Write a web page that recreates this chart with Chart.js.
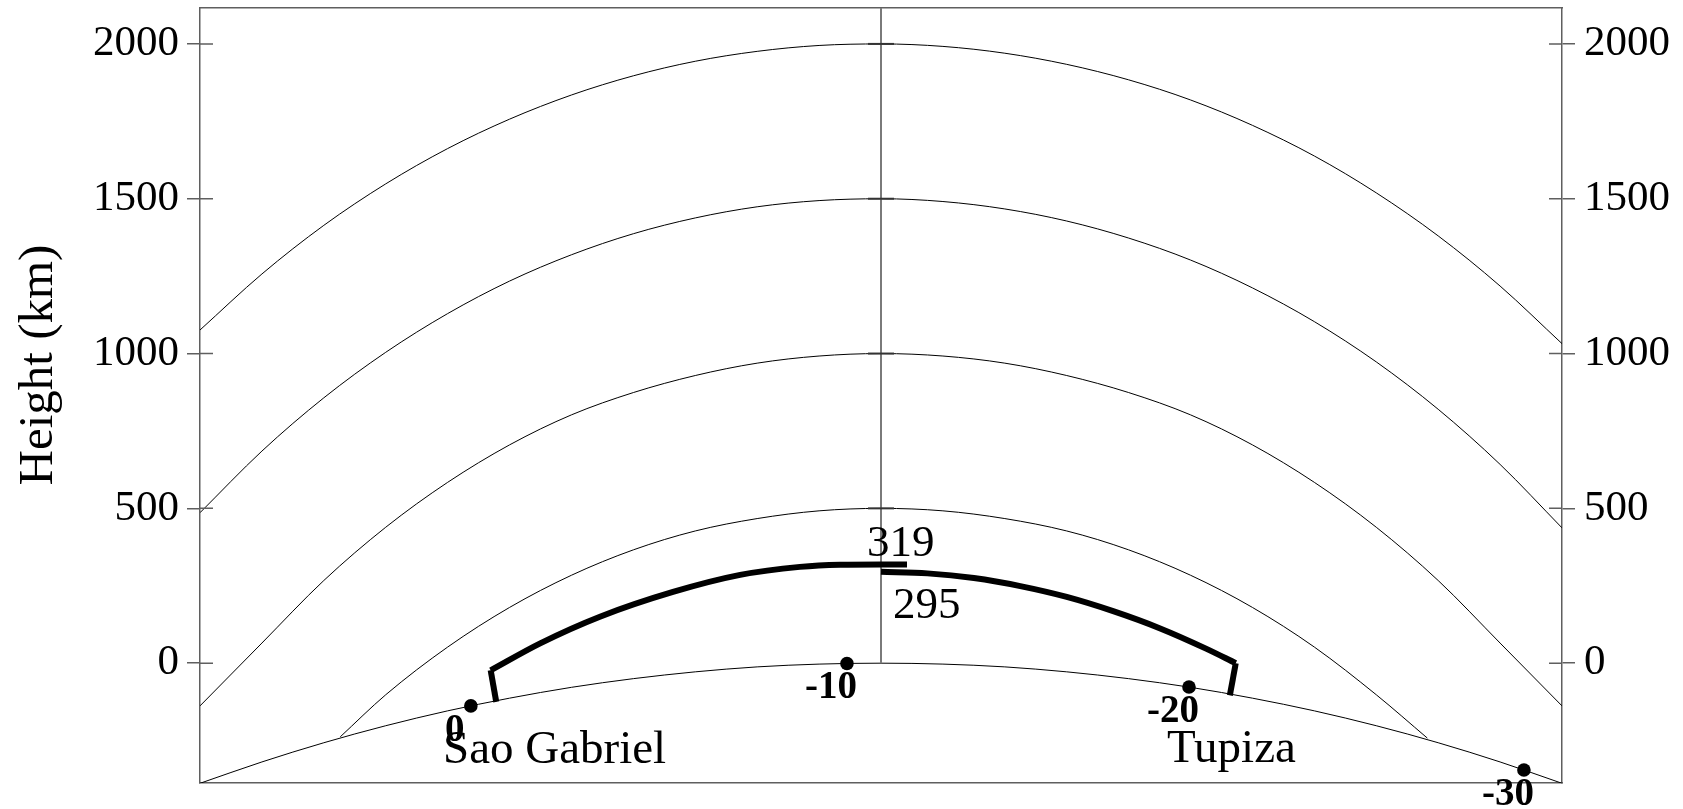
<!DOCTYPE html>
<html>
<head>
<meta charset="utf-8">
<script src="https://cdn.jsdelivr.net/npm/chart.js@4/dist/chart.umd.min.js"></script>
<style>
  html, body { margin: 0; padding: 0; background: #fff; }
  #wrap { width: 1683px; height: 809px; }
</style>
</head>
<body>
<div id="wrap"><canvas id="c" width="1683" height="809"></canvas></div>
<script>
// Height axis ticks (km)
const heightTicks = [0, 500, 1000, 1500, 2000];
const distRange = [-2200, 2200];   // horizontal distance from the vertical reference line (km)
const heightRange = [-387, 2116];

// Ground and constant-height shells: [distance km, height km]
const surface = [[-2200,-388],[-2000,-319],[-1800,-257],[-1600,-202],[-1400,-154],[-1200,-113],[-1000,-78],[-800,-50],[-600,-28],[-400,-12],[-200,-3],[0,0],
                 [200,-3],[400,-12],[600,-28],[800,-50],[1000,-78],[1200,-113],[1400,-154],[1600,-202],[1800,-257],[2000,-319],[2200,-388]];
const shell500 = [[-1747,-238],[-1600,-102],[-1400,52],[-1200,180],[-1000,284],[-800,366],[-600,427],[-400,467],[-200,492],[0,500],
                  [200,492],[400,467],[600,427],[800,366],[1000,284],[1200,180],[1400,52],[1600,-102],[1765,-242]];
const shell1000 = [[-2200,-138],[-2000,65],[-1800,267],[-1600,439],[-1400,584],[-1200,705],[-1000,802],[-800,874],[-600,929],[-400,969],[-200,992],[0,1000],
                   [200,992],[400,969],[600,929],[800,874],[1000,802],[1200,705],[1400,584],[1600,439],[1800,267],[2000,65],[2200,-138]];
const shell1500 = [[-2200,486],[-2000,685],[-1800,857],[-1600,1004],[-1400,1129],[-1200,1234],[-1000,1319],[-800,1387],[-600,1438],[-400,1474],[-200,1494],[0,1500],
                   [200,1491],[400,1467],[600,1428],[800,1373],[1000,1302],[1200,1212],[1400,1103],[1600,973],[1800,820],[2000,642],[2200,437]];
const shell2000 = [[-2200,1076],[-2000,1257],[-1800,1414],[-1600,1548],[-1400,1662],[-1200,1757],[-1000,1835],[-800,1897],[-600,1944],[-400,1976],[-200,1995],[0,2000],
                   [200,1992],[400,1970],[600,1934],[800,1884],[1000,1819],[1200,1737],[1400,1638],[1600,1519],[1800,1380],[2000,1218],[2200,1032]];

// Trajectory (km): peak heights either side of the reference line
const peakLeft = 319;
const peakRight = 295;
const trackLeftLeg = [[-1243,-125],[-1261,-23]];
const trackLeft = [[-1261,-23],[-1101,64],[-908,150],[-672,230],[-455,285],[-262,311],[-132,318],[0,peakLeft],[84,peakLeft]];
const trackRight = [[0,peakRight],[150,290],[300,275],[450,249],[600,214],[750,168],[900,113],[1050,47],[1146,0]];
const trackRightLeg = [[1146,0],[1127,-104]];

// Latitude markers on the ground
const latitudeLabels = ['0', '-10', '-20', '-30'];
const latitudePoints = [[-1325,-138],[-110,-1],[995,-77],[2077,-345]];

// Station names (left end of text, baseline)
const stationNames = ['Sao Gabriel', 'Tupiza'];
const stationPoints = [[-1415,-322],[924,-320]];

const SERIF = '"Liberation Serif", "Times New Roman", serif';
const FRAME = '#5f5f5f';

const pts = arr => arr.map(([x, y]) => ({ x, y }));
const thinCurve = arr => ({
  data: pts(arr), showLine: true, borderColor: '#000', borderWidth: 1,
  pointRadius: 0, cubicInterpolationMode: 'monotone', clip: 0, order: 3
});
const thickCurve = (arr, smooth) => ({
  data: pts(arr), showLine: true, borderColor: '#000', borderWidth: 6,
  pointRadius: 0, cubicInterpolationMode: smooth ? 'monotone' : 'default', tension: 0,
  borderCapStyle: 'butt', borderJoinStyle: 'miter', clip: 0, order: 1
});

const annotations = {
  id: 'annotations',
  afterDatasetsDraw(chart) {
    const { ctx, chartArea } = chart;
    const xs = chart.scales.x, ys = chart.scales.y;
    ctx.save();

    // inner half of the axis tick marks, both sides
    ctx.strokeStyle = FRAME;
    ctx.lineWidth = 1.5;
    heightTicks.forEach(v => {
      const py = ys.getPixelForValue(v);
      ctx.beginPath();
      ctx.moveTo(chartArea.left, py); ctx.lineTo(chartArea.left + 13, py);
      ctx.moveTo(chartArea.right - 13, py); ctx.lineTo(chartArea.right, py);
      ctx.stroke();
    });

    // short marks on the vertical reference line
    const cx = xs.getPixelForValue(0);
    ctx.strokeStyle = '#333';
    ctx.lineWidth = 2;
    heightTicks.filter(v => v > 0).forEach(v => {
      const py = ys.getPixelForValue(v);
      ctx.beginPath();
      ctx.moveTo(cx - 13, py); ctx.lineTo(cx + 13, py);
      ctx.stroke();
    });

    ctx.fillStyle = '#000';

    // latitude labels
    ctx.font = 'bold 39px ' + SERIF;
    ctx.textAlign = 'center';
    ctx.textBaseline = 'alphabetic';
    latitudePoints.forEach(([x, y], i) => {
      ctx.fillText(latitudeLabels[i], xs.getPixelForValue(x) - 16, ys.getPixelForValue(y) + 35);
    });

    // station names
    ctx.font = '47px ' + SERIF;
    ctx.textAlign = 'left';
    stationPoints.forEach(([x, y], i) => {
      ctx.fillText(stationNames[i], xs.getPixelForValue(x), ys.getPixelForValue(y));
    });

    // peak heights
    ctx.font = '45px ' + SERIF;
    ctx.fillText(String(peakLeft), cx - 14, ys.getPixelForValue(peakLeft) - 8);
    ctx.fillText(String(peakRight), cx + 12, ys.getPixelForValue(peakRight) + 46);

    // axis title
    ctx.font = '49px ' + SERIF;
    ctx.textAlign = 'center';
    ctx.textBaseline = 'middle';
    ctx.translate(39, 365);
    ctx.rotate(-Math.PI / 2);
    ctx.fillText('Height (km)', 0, 0);
    ctx.restore();
  }
};

const yAxis = (position, width) => ({
  type: 'linear', position, min: heightRange[0], max: heightRange[1],
  afterBuildTicks: s => { s.ticks = heightTicks.map(v => ({ value: v })); },
  afterFit: s => { s.width = width; s.paddingTop = 0; s.paddingBottom = 0; },
  ticks: {
    font: { family: 'Liberation Serif', size: 43 }, color: '#000',
    padding: position === 'left' ? 8 : 9,
    callback: v => String(v)
  },
  grid: { drawOnChartArea: false, drawTicks: true, tickLength: 13, color: FRAME, lineWidth: 1.5 },
  border: { display: true, color: FRAME, width: 1.5 }
});
const xAxis = (position, height) => ({
  type: 'linear', position, min: distRange[0], max: distRange[1],
  afterFit: s => { s.height = height; s.paddingLeft = 0; s.paddingRight = 0; },
  ticks: { display: false },
  grid: { display: false, drawTicks: false },
  border: { display: true, color: FRAME, width: 1.5 }
});

new Chart(document.getElementById('c'), {
  type: 'scatter',
  data: {
    datasets: [
      thinCurve(surface), thinCurve(shell500), thinCurve(shell1000), thinCurve(shell1500), thinCurve(shell2000),
      { data: pts([[0, 0], [0, heightRange[1]]]), showLine: true, borderColor: '#7a7a7a', borderWidth: 2, pointRadius: 0, clip: 0, order: 2 },
      thickCurve(trackLeftLeg, false), thickCurve(trackLeft, true),
      thickCurve(trackRight, true), thickCurve(trackRightLeg, false),
      { data: pts(latitudePoints), pointRadius: 6.8, pointBackgroundColor: '#000', pointBorderWidth: 0, showLine: false, clip: false, order: 0 }
    ]
  },
  options: {
    responsive: false,
    animation: false,
    devicePixelRatio: 1,
    layout: { padding: 0 },
    plugins: { legend: { display: false }, tooltip: { enabled: false } },
    scales: {
      x: xAxis('bottom', 26),
      xTop: xAxis('top', 8),
      y: yAxis('left', 200),
      y2: yAxis('right', 121)
    }
  },
  plugins: [annotations]
});
</script>
</body>
</html>
